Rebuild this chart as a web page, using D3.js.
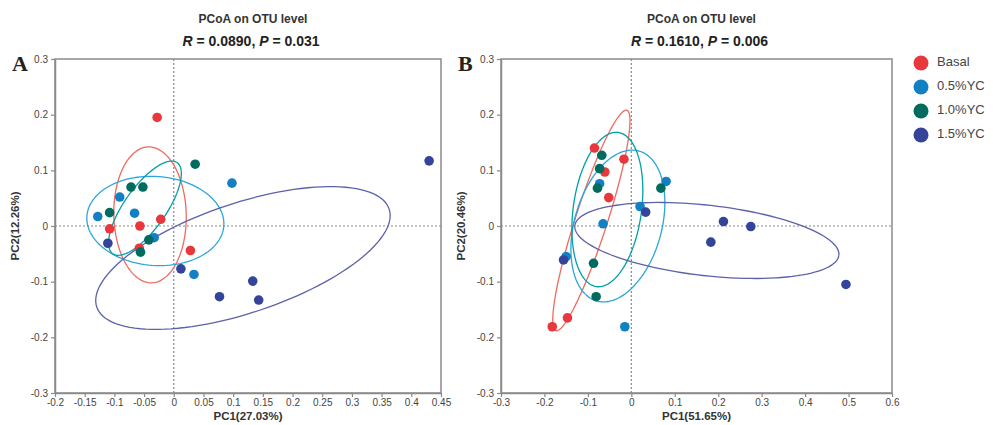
<!DOCTYPE html>
<html>
<head>
<meta charset="utf-8">
<script src="https://cdn.jsdelivr.net/npm/d3@7"></script>
<style>
  body { margin: 0; background: #fff; }
  text { font-family: Arial, "Liberation Sans", sans-serif; }
</style>
</head>
<body>
<div id="chart-area"></div>
<script>
// groups + colours
const groups = ["Basal", "0.5%YC", "1.0%YC", "1.5%YC"];
const pointColors = ["#e8383d", "#1380c4", "#006b5e", "#33449a"];
const ringColors = ["#f06a5f", "#2ba6dc", "#00a0a5", "#5c62aa"];

// tick labels
const yTicks = [-0.3, -0.2, -0.1, 0, 0.1, 0.2, 0.3];
const xTicksA = [-0.2, -0.15, -0.1, -0.05, 0, 0.05, 0.1, 0.15, 0.2, 0.25, 0.3, 0.35, 0.4, 0.45];
const xTicksB = [-0.3, -0.2, -0.1, 0, 0.1, 0.2, 0.3, 0.4, 0.5, 0.6];

// panel A points (PC1, PC2)
const aBasal = [[-0.028, 0.195], [-0.022, 0.012], [-0.057, 0.0], [-0.108, -0.005], [-0.058, -0.040], [0.028, -0.044]];
const aYC05 = [[-0.128, 0.017], [-0.091, 0.052], [-0.066, 0.023], [-0.033, -0.021], [0.098, 0.077], [0.034, -0.087]];
const aYC10 = [[0.036, 0.111], [-0.072, 0.070], [-0.052, 0.070], [-0.108, 0.024], [-0.042, -0.025], [-0.056, -0.047]];
const aYC15 = [[-0.111, -0.031], [0.012, -0.077], [0.077, -0.127], [0.133, -0.099], [0.143, -0.133], [0.430, 0.117]];

// panel B points
const bBasal = [[-0.085, 0.140], [-0.017, 0.120], [-0.061, 0.097], [-0.052, 0.051], [-0.147, -0.165], [-0.182, -0.181]];
const bYC05 = [[-0.073, 0.076], [0.080, 0.080], [0.020, 0.035], [-0.065, 0.004], [-0.150, -0.055], [-0.015, -0.181]];
const bYC10 = [[-0.068, 0.127], [-0.073, 0.103], [-0.078, 0.068], [0.068, 0.068], [-0.087, -0.067], [-0.081, -0.127]];
const bYC15 = [[0.033, 0.025], [-0.156, -0.061], [0.212, 0.008], [0.275, -0.001], [0.183, -0.029], [0.494, -0.105]];

// confidence ellipses: centre x, centre y, semi-axis u (x,y), semi-axis v (x,y)
const ellipsesA = [
    [-0.040, 0.020, 0.000, 0.122, 0.061, -0.004],
    [-0.031, 0.009, 0.1153, -0.0086, -0.0052, -0.0798],
    [-0.0485, 0.032, 0.054, 0.082, 0.029, -0.021],
    [0.1165, -0.0575, 0.2462, 0.0879, 0.0293, -0.0934]
];
const ellipsesB = [
    [-0.092, 0.010, 0.0817, 0.198, 0.035, -0.0088],
    [-0.031, 0.000, 0.0488, 0.1347, 0.0965, -0.0214],
    [-0.0552, 0.0296, 0.0249, 0.1385, 0.0778, -0.0084],
    [0.1738, -0.026, 0.3039, -0.0266, -0.009, -0.0629]
];

const svg = d3.select("#chart-area")
    .append("svg")
    .attr("width", 993)
    .attr("height", 425);

const fmt = d => String(+d.toFixed(2));

function drawPanel(p) {
    const x = d3.scaleLinear().domain(p.xDomain).range([p.left, p.right]);
    const y = d3.scaleLinear().domain([-0.3, 0.3]).range([393, 59]);
    const g = svg.append("g");

    /* zero lines */
    g.append("line")
        .attr("x1", x(0)).attr("x2", x(0))
        .attr("y1", y(0.3)).attr("y2", y(-0.3))
        .attr("stroke", "#888").attr("stroke-width", 1.2)
        .attr("stroke-dasharray", "2,2");
    g.append("line")
        .attr("x1", x(p.xDomain[0])).attr("x2", x(p.xDomain[1]))
        .attr("y1", y(0)).attr("y2", y(0))
        .attr("stroke", "#888").attr("stroke-width", 1.2)
        .attr("stroke-dasharray", "2,2");

    /* frame */
    g.append("rect")
        .attr("x", x(p.xDomain[0])).attr("y", y(0.3))
        .attr("width", x(p.xDomain[1]) - x(p.xDomain[0]))
        .attr("height", y(-0.3) - y(0.3))
        .attr("fill", "none")
        .attr("stroke", "#8a8a8a").attr("stroke-width", 1.5);

    /* Axis */
    const xAxis = g.append("g")
        .attr("transform", `translate(0,${y(-0.3)})`)
        .call(d3.axisBottom(x).tickValues(p.xTicks).tickFormat(fmt).tickSize(4).tickSizeOuter(0));
    const yAxis = g.append("g")
        .attr("transform", `translate(${x(p.xDomain[0])},0)`)
        .call(d3.axisLeft(y).tickValues(yTicks).tickFormat(fmt).tickSize(4).tickSizeOuter(0));
    [xAxis, yAxis].forEach(a => {
        a.select(".domain").attr("stroke", "#8a8a8a").attr("stroke-width", 1.5);
        a.selectAll(".tick line").attr("stroke", "#8a8a8a").attr("stroke-width", 1.2);
        a.selectAll(".tick text").attr("fill", "#444").style("font-size", "10px");
    });
    xAxis.selectAll(".tick text").attr("dy", "0.6em");

    /* ellipses */
    const line = d3.line().x(d => x(d[0])).y(d => y(d[1]));
    const steps = d3.range(0, 361, 3).map(a => a * Math.PI / 180);
    p.ellipses.forEach((e, i) => {
        const pts = steps.map(t => [
            e[0] + e[2] * Math.cos(t) + e[4] * Math.sin(t),
            e[1] + e[3] * Math.cos(t) + e[5] * Math.sin(t)
        ]);
        g.append("path")
            .attr("d", line(pts))
            .attr("fill", "none")
            .attr("stroke", ringColors[i])
            .attr("stroke-width", 1.3);
    });

    /* points */
    p.points.forEach((set, i) => {
        g.selectAll(null)
            .data(set)
            .enter().append("circle")
            .attr("cx", d => x(d[0]))
            .attr("cy", d => y(d[1]))
            .attr("r", 4.8)
            .attr("fill", pointColors[i]);
    });

    /* labels */
    const mid = (p.left + p.right) / 2;
    g.append("text")
        .attr("x", mid).attr("y", 417)
        .attr("text-anchor", "middle").attr("dominant-baseline", "middle")
        .attr("fill", "#333").style("font-size", "11.5px").style("font-weight", "bold")
        .text(p.xLabel);
    g.append("text")
        .attr("transform", `translate(16,226) rotate(-90)`)
        .attr("x", 0).attr("y", 0)
        .attr("transform", `translate(${p.left - 39},226) rotate(-90)`)
        .attr("text-anchor", "middle").attr("dominant-baseline", "middle")
        .attr("fill", "#333").style("font-size", "11.5px").style("font-weight", "bold")
        .text(p.yLabel);

    g.append("text")
        .attr("x", mid + 5).attr("y", 23)
        .attr("text-anchor", "middle")
        .attr("fill", "#333").style("font-size", "12px").style("font-weight", "bold")
        .text("PCoA on OTU level");
    const t2 = g.append("text")
        .attr("x", mid + 3).attr("y", 46)
        .attr("text-anchor", "middle")
        .attr("fill", "#222").style("font-size", "14px").style("font-weight", "bold");
    t2.append("tspan").style("font-style", "italic").text("R");
    t2.append("tspan").text(` = ${p.r}, `);
    t2.append("tspan").style("font-style", "italic").text("P");
    t2.append("tspan").text(` = ${p.p}`);

    g.append("text")
        .attr("x", p.left - 43).attr("y", 71)
        .attr("fill", "#222")
        .style("font-family", "'Liberation Serif', 'DejaVu Serif', serif")
        .style("font-size", "22px").style("font-weight", "bold")
        .text(p.key);
}

drawPanel({
    key: "A", left: 55, right: 441, xDomain: [-0.2, 0.45], xTicks: xTicksA,
    points: [aBasal, aYC05, aYC10, aYC15], ellipses: ellipsesA,
    xLabel: "PC1(27.03%)", yLabel: "PC2(12.26%)", r: "0.0890", p: "0.031"
});
drawPanel({
    key: "B", left: 501, right: 892, xDomain: [-0.3, 0.6], xTicks: xTicksB,
    points: [bBasal, bYC05, bYC10, bYC15], ellipses: ellipsesB,
    xLabel: "PC1(51.65%)", yLabel: "PC2(20.46%)", r: "0.1610", p: "0.006"
});

/* Legend */
const legend = svg.append("g").attr("transform", "translate(921,63)");
groups.forEach((name, i) => {
    legend.append("circle")
        .attr("cx", 0).attr("cy", i * 24)
        .attr("r", 7.5)
        .attr("fill", pointColors[i]);
    legend.append("text")
        .attr("x", 16).attr("y", i * 24)
        .attr("dominant-baseline", "middle")
        .attr("fill", "#444").style("font-size", "13px")
        .text(name);
});
</script>
</body>
</html>
